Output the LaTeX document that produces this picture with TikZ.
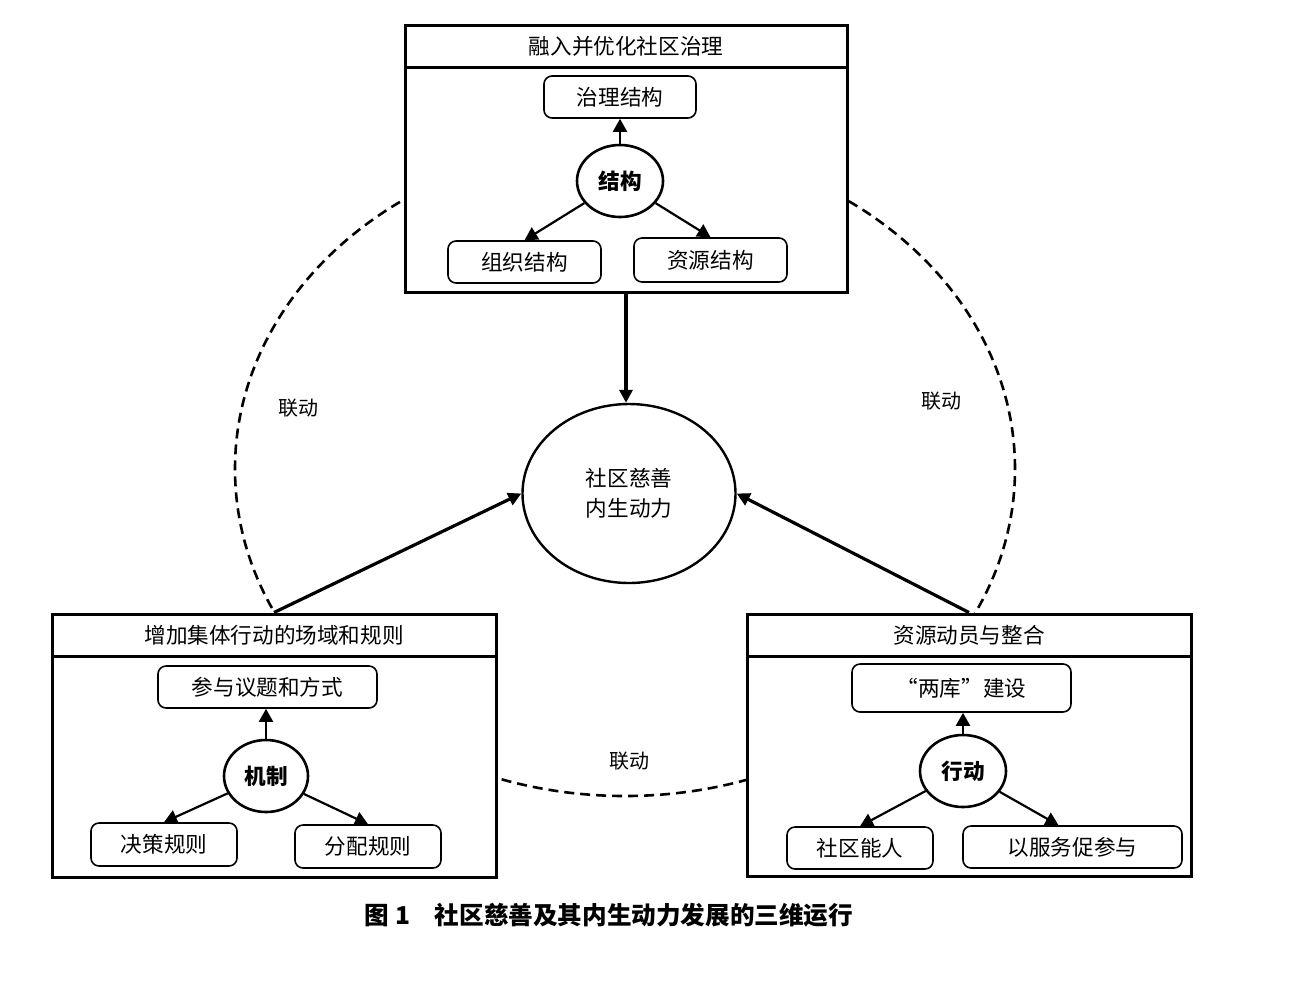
\documentclass[tikz,border=0pt]{standalone}
\usepackage{fontspec}
\setmainfont{Noto Sans CJK SC}
\usetikzlibrary{arrows.meta,shapes.geometric}
\begin{document}
\begin{tikzpicture}[x=0.5pt,y=-0.5pt,
  outer/.style={draw,line width=1.5pt,fill=white,inner sep=0pt},
  hdr/.style={draw,line width=1.5pt,fill=white,inner sep=0pt,minimum height=21pt,font=\fontsize{10.8}{13}\selectfont},
  rbox/.style={draw,line width=0.8pt,rounded corners=4pt,fill=white,inner sep=0pt,font=\fontsize{10.8}{13}\selectfont},
  oval/.style={ellipse,draw,line width=1.3pt,fill=white,inner sep=0pt,minimum width=43pt,minimum height=36pt,font=\bfseries\fontsize{10.8}{13}\selectfont},
  sarr/.style={line width=1.1pt,-{Triangle[length=6.5pt,width=7pt]}},
  barr/.style={line width=1.6pt,-{Triangle[length=6.5pt,width=6.5pt]}},
  link/.style={font=\fontsize{10}{12}\selectfont},
  linkline/.style={line width=1.3pt,dash pattern=on 5pt off 3pt}]
\useasboundingbox (0,0) rectangle (1300,981);
% dashed linkage ellipse
\coordinate (lc) at (625,469);
\draw[linkline] (lc) ellipse [x radius=195pt, y radius=163.5pt];
% centre
\node[ellipse,draw,line width=1.2pt,fill=white,inner sep=0pt,minimum width=106.5pt,minimum height=89.5pt,align=center,font=\fontsize{10.8}{15}\selectfont] (core) at (629,493.5) {社区慈善\\内生动力};
% top box
\node[outer,minimum width=221pt,minimum height=133.5pt] (tbox) at (626,158.5) {};
\node[hdr,minimum width=221pt] (thdr) at (626,46) {融入并优化社区治理};
\node[rbox,minimum width=76pt,minimum height=21pt] (tzl) at (620,97) {治理结构};
\node[oval] (tjg) at (620,181) {结构};
\node[rbox,minimum width=76.5pt,minimum height=21pt] (tzz) at (524.5,262) {组织结构};
\node[rbox,minimum width=76.5pt,minimum height=22pt] (tzy) at (710.5,260) {资源结构};
\draw[sarr] (tjg.north) -- (tzl.south);
\draw[sarr] (tjg) -- (tzz.north);
\draw[sarr] (tjg) -- (tzy.north);
% left box
\node[outer,minimum width=222pt,minimum height=131.5pt] (lbox) at (274,745.5) {};
\node[hdr,minimum width=222pt] (lhdr) at (274,635) {增加集体行动的场域和规则};
\node[rbox,minimum width=109.5pt,minimum height=21pt] (lcy) at (267.5,687) {参与议题和方式};
\node[oval,minimum width=42pt] (ljz) at (266,776) {机制};
\node[rbox,minimum width=73pt,minimum height=21.5pt] (ljc) at (164,844.5) {决策规则};
\node[rbox,minimum width=73pt,minimum height=21.5pt] (lfp) at (368,846.5) {分配规则};
\draw[sarr] (ljz.north) -- (ljz.north |- lcy.south);
\draw[sarr] (ljz) -- (ljc.north);
\draw[sarr] (ljz) -- (lfp.north);
% right box
\node[outer,minimum width=222pt,minimum height=131pt] (rbx) at (969,745) {};
\node[hdr,minimum width=222pt] (rhdr) at (969,635) {资源动员与整合};
\node[rbox,minimum width=109.5pt,minimum height=24pt] (rlk) at (961.5,688) {“两库”建设};
\node[oval] (rxd) at (963,771) {行动};
\node[rbox,minimum width=73pt,minimum height=21pt] (rnr) at (860,848) {社区能人};
\node[rbox,minimum width=109.5pt,minimum height=21pt] (rfw) at (1072.5,847) {以服务促参与};
\draw[sarr] (rxd.north) -- (rxd.north |- rlk.south);
\draw[sarr] (rxd) -- (rnr.north);
\draw[sarr] (rxd) -- ([xshift=-7pt]rfw.north);
% main arrows
\draw[barr] (tbox.south) -- (tbox.south |- core.north);
\draw[barr] (lbox.north) -- (core.west);
\draw[barr] (rbx.north) -- (core.east);
% link labels
\node[link] (l1) at (298,408) {联动};
\node[link] (l2) at (941,401) {联动};
\node[link] (l3) at (629,761) {联动};
% caption
\node[font=\bfseries\fontsize{12.3}{14}\selectfont] (cap) at (609,915) {图 1\hspace{1em}社区慈善及其内生动力发展的三维运行};
\end{tikzpicture}
\end{document}
